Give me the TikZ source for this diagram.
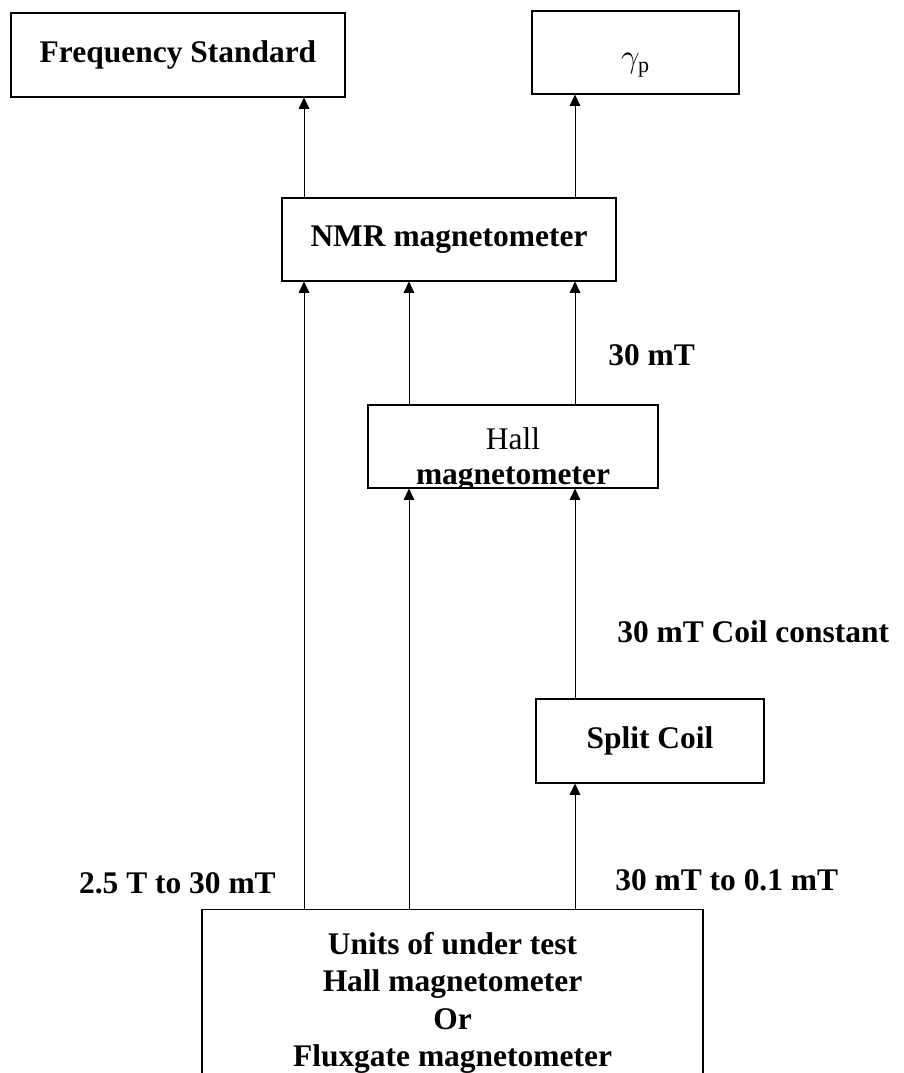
\documentclass[tikz,border=0pt]{standalone}
\usepackage{fontspec}
\setmainfont{Liberation Serif}
\usepackage{tikz}
\usetikzlibrary{positioning,arrows.meta}

\begin{document}
\begin{tikzpicture}[
  x=0.75pt, y=-0.75pt,
  blockbox/.style={
    draw,
    line width=0.8pt,
    inner sep=0pt,
    align=center,
    font=\fontsize{23.6}{28}\selectfont\bfseries
  },
  rangelbl/.style={
    inner sep=0pt,
    font=\fontsize{23.6}{28}\selectfont\bfseries
  },
  arr/.style={-{Triangle[width=8pt,length=8.5pt]},line width=0.7pt}
]

\useasboundingbox (0,0) rectangle (903,1073);
\clip (0,0) rectangle (903,1073);

\coordinate (colL) at (304,0);
\coordinate (colM) at (409,0);
\coordinate (colR) at (575,0);

\node[blockbox,minimum width=250.5pt,minimum height=63pt] (freq) at (178,55) {Frequency Standard};
\node[blockbox,minimum width=155.25pt,minimum height=62.25pt,
      font=\fontsize{23.6}{28}\selectfont,text height=23pt,text depth=0pt] (gamma) at (635.5,52.5) {$\gamma_{\mathrm{p}}$};
\node[blockbox,minimum width=250.5pt,minimum height=62.25pt] (nmr) at (449,239.5) {NMR magnetometer};
\node[blockbox,minimum width=217.5pt,minimum height=62.25pt] (hall) at (513,446.5) {};
\node[blockbox,minimum width=171pt,minimum height=63pt] (split) at (650,741) {Split Coil};
\node[blockbox,anchor=north,minimum width=375.75pt,inner ysep=17pt] (units) at (452.5,909)
  {Units of under test\\Hall magnetometer\\Or\\Fluxgate magnetometer};

\begin{scope}
  \clip (hall.south west) rectangle (hall.north east);
  \node[rangelbl,anchor=base,font=\fontsize{23.6}{28}\selectfont] (hallA) at (513,449) {Hall};
  \node[rangelbl,anchor=base] (hallB) at (513,484) {magnetometer};
\end{scope}

\node[rangelbl,anchor=west] (lblA) at (608,355) {30 mT};
\node[rangelbl,anchor=west] (lblB) at (617,632) {30 mT Coil constant};
\node[rangelbl,anchor=east] (lblC) at (276,883) {2.5 T to 30 mT};
\node[rangelbl,anchor=west] (lblD) at (615,880) {30 mT to 0.1 mT};

\draw[arr] (nmr.north -| colL) -- (freq.south -| colL);
\draw[arr] (nmr.north -| colR) -- (gamma.south -| colR);
\draw[arr] (units.north -| colL) -- (nmr.south -| colL);
\draw[arr] (hall.north -| colM) -- (nmr.south -| colM);
\draw[arr] (hall.north -| colR) -- (nmr.south -| colR);
\draw[arr] (units.north -| colM) -- (hall.south -| colM);
\draw[arr] (split.north -| colR) -- (hall.south -| colR);
\draw[arr] (units.north -| colR) -- (split.south -| colR);

\end{tikzpicture}
\end{document}
